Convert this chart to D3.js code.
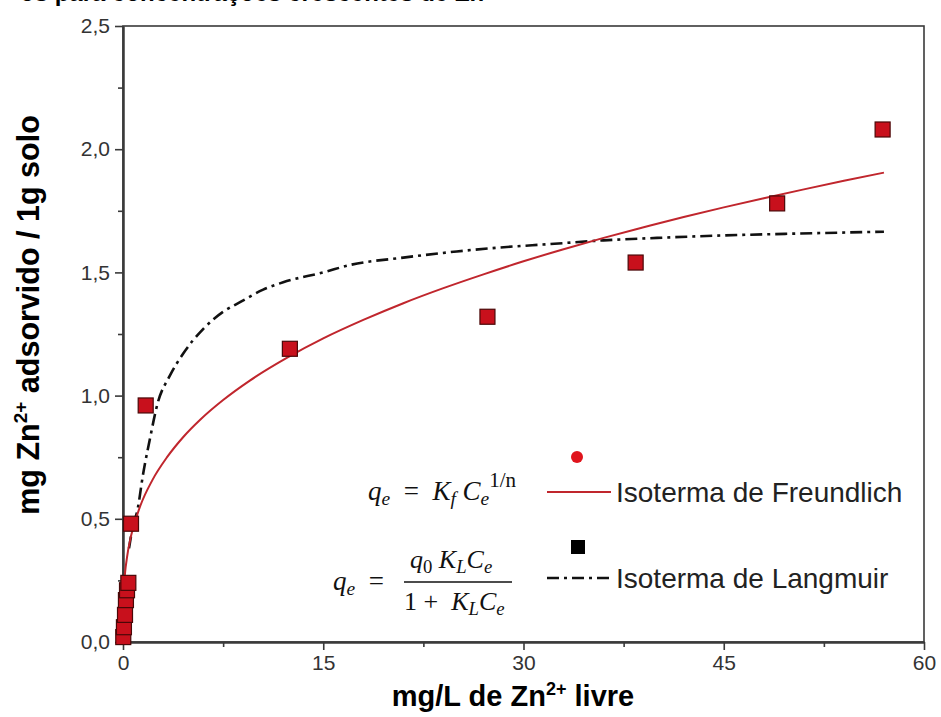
<!DOCTYPE html>
<html>
<head>
<meta charset="utf-8">
<script src="https://cdn.jsdelivr.net/npm/d3@7"></script>
<style>
  html, body { margin: 0; padding: 0; background: #fff; }
  svg { display: block; }
  .pre { white-space: pre; }
</style>
</head>
<body>
<div id="chart"></div>
<script>
// measured points (mg/L free Zn2+ vs mg adsorbed / g soil)
const obsC = [0.02, 0.07, 0.15, 0.22, 0.30, 0.40, 0.60, 1.7, 12.5, 27.3, 38.4, 49.0, 56.9];
const obsQ = [0.02, 0.06, 0.11, 0.17, 0.21, 0.24, 0.48, 0.96, 1.19, 1.32, 1.54, 1.78, 2.08];

// Freundlich curve
const freC = [0, 0.003, 0.02, 0.1, 0.3, 0.6, 1.3, 2.2, 3.3, 4.5, 5.8, 7.5, 9.5, 12.3, 15, 18, 21, 24, 27, 30, 33, 36, 39, 42, 45, 48, 51, 54, 57];
const freQ = [0, 0.076, 0.141, 0.239, 0.343, 0.430, 0.553, 0.657, 0.750, 0.831, 0.903, 0.982, 1.061, 1.154, 1.232, 1.307, 1.375, 1.436, 1.492, 1.545, 1.594, 1.640, 1.683, 1.725, 1.764, 1.801, 1.837, 1.872, 1.905];

// Langmuir curve
const lanC = [0.45, 0.7, 1.1, 1.5, 2.0, 2.6, 3.5, 4.5, 6.0, 7.5, 8.8, 10.5, 12.0, 15, 17, 21, 25, 28, 32, 36, 40, 45, 50, 57];
const lanQ = [0.38, 0.46, 0.54, 0.68, 0.82, 0.97, 1.08, 1.17, 1.27, 1.34, 1.38, 1.43, 1.46, 1.50, 1.53, 1.56, 1.585, 1.60, 1.615, 1.63, 1.64, 1.65, 1.657, 1.665];

const xMajor = [0, 15, 30, 45, 60];
const xMinor = [7.5, 22.5, 37.5, 52.5];
const yMajor = [0, 0.5, 1.0, 1.5, 2.0, 2.5];
const yMinor = [0.25, 0.75, 1.25, 1.75, 2.25];

const legendLabels = ["Isoterma de Freundlich", "Isoterma de Langmuir"];

const W = 941, H = 717;
const margin = { top: 26, right: 17, bottom: 75, left: 123 };
const width = W - margin.left - margin.right;
const height = H - margin.top - margin.bottom;

const svg = d3.select("#chart").append("svg")
  .attr("width", W)
  .attr("height", H);

// cut-off caption at the very top
svg.append("text")
  .attr("x", 20)
  .attr("y", 1)
  .attr("font-family", "Liberation Sans, Arial, sans-serif")
  .attr("font-weight", "bold")
  .attr("font-size", 24)
  .attr("fill", "#000")
  .text("os para concentrações crescentes de Zn²⁺");

const g = svg.append("g")
  .attr("transform", `translate(${margin.left},${margin.top})`);

const x = d3.scaleLinear().domain([0, 60]).range([0, width]);
const y = d3.scaleLinear().domain([0, 2.5]).range([height, 0]);

const comma = d3.formatLocale({ decimal: ",", thousands: ".", grouping: [3], currency: ["", ""] }).format(".1f");

const axisColor = "#3a3a3a";
const tickFont = "Liberation Sans, Arial, sans-serif";

// frame
g.append("rect")
  .attr("width", width)
  .attr("height", height)
  .attr("fill", "none")
  .attr("stroke", axisColor)
  .attr("stroke-width", 1.6);

// x axis
g.append("g")
  .attr("transform", `translate(0,${height})`)
  .call(d3.axisBottom(x).tickValues(xMajor).tickSize(8).tickSizeOuter(0).tickPadding(5).tickFormat(d3.format("d")));
g.append("g")
  .attr("transform", `translate(0,${height})`)
  .call(d3.axisBottom(x).tickValues(xMinor).tickSize(5).tickSizeOuter(0).tickFormat(""));

// y axis
g.append("g")
  .call(d3.axisLeft(y).tickValues(yMajor).tickSize(8).tickSizeOuter(0).tickPadding(5).tickFormat(comma));
g.append("g")
  .call(d3.axisLeft(y).tickValues(yMinor).tickSize(5).tickSizeOuter(0).tickFormat(""));

g.selectAll(".domain").attr("stroke", axisColor).attr("stroke-width", 2);
g.selectAll(".tick line").attr("stroke", axisColor).attr("stroke-width", 1.6);
g.selectAll(".tick text")
  .attr("font-family", tickFont)
  .attr("font-size", 21)
  .attr("fill", "#333");

// axis titles
const xTitle = svg.append("text")
  .attr("x", 513)
  .attr("y", 706)
  .attr("text-anchor", "middle")
  .attr("font-family", "Liberation Sans, Arial, sans-serif")
  .attr("font-weight", "bold")
  .attr("font-size", 29)
  .attr("fill", "#000");
xTitle.append("tspan").text("mg/L de Zn");
xTitle.append("tspan").attr("font-size", 18).attr("dy", -11).text("2+");
xTitle.append("tspan").attr("dy", 11).text(" livre");

const yTitle = svg.append("text")
  .attr("transform", "translate(39,315) rotate(-90)")
  .attr("text-anchor", "middle")
  .attr("font-family", "Liberation Sans, Arial, sans-serif")
  .attr("font-weight", "bold")
  .attr("font-size", 30.5)
  .attr("fill", "#000");
yTitle.append("tspan").text("mg Zn");
yTitle.append("tspan").attr("font-size", 19).attr("dy", -12).text("2+");
yTitle.append("tspan").attr("dy", 12).text(" adsorvido / 1g solo");

// curves
const line = d3.line()
  .x(d => x(d[0]))
  .y(d => y(d[1]))
  .curve(d3.curveMonotoneX);

const freundlichColor = "#c0262d";
const dashDot = "12,5,3,5";

g.append("path")
  .datum(lanC.map((c, i) => [c, lanQ[i]]))
  .attr("fill", "none")
  .attr("stroke", "#111")
  .attr("stroke-width", 2.6)
  .attr("stroke-dasharray", dashDot)
  .attr("d", line);

g.append("path")
  .datum(freC.map((c, i) => [c, freQ[i]]))
  .attr("fill", "none")
  .attr("stroke", freundlichColor)
  .attr("stroke-width", 2)
  .attr("d", line);

// measured squares
const sq = 15;
g.selectAll("rect.pt")
  .data(obsC.map((c, i) => [c, obsQ[i]]))
  .enter()
  .append("rect")
  .attr("class", "pt")
  .attr("x", d => x(d[0]) - sq / 2)
  .attr("y", d => y(d[1]) - sq / 2)
  .attr("width", sq)
  .attr("height", sq)
  .attr("fill", "#c8101c")
  .attr("stroke", "#4a0808")
  .attr("stroke-width", 1.2);

// legend
const leg = svg.append("g");
leg.append("circle").attr("cx", 577).attr("cy", 457).attr("r", 6).attr("fill", "#e0141c");
leg.append("line").attr("x1", 547).attr("x2", 611).attr("y1", 492).attr("y2", 492)
  .attr("stroke", freundlichColor).attr("stroke-width", 2);
leg.append("rect").attr("x", 571).attr("y", 540).attr("width", 14).attr("height", 14).attr("fill", "#000");
leg.append("line").attr("x1", 547).attr("x2", 611).attr("y1", 578).attr("y2", 578)
  .attr("stroke", "#111").attr("stroke-width", 2.6).attr("stroke-dasharray", dashDot);

leg.selectAll("text.lab")
  .data(legendLabels)
  .enter()
  .append("text")
  .attr("class", "lab")
  .attr("x", 616)
  .attr("y", (d, i) => [502, 588][i])
  .attr("font-family", "Liberation Sans, Arial, sans-serif")
  .attr("font-size", 28)
  .attr("fill", "#222")
  .text(d => d);

// equations
const mathFont = "Liberation Serif, Times New Roman, serif";
function eq(parent, xPos, yPos, parts, size) {
  const t = parent.append("text")
    .attr("class", "pre")
    .attr("x", xPos).attr("y", yPos)
    .attr("font-family", mathFont)
    .attr("font-style", "italic")
    .attr("font-size", size)
    .attr("fill", "#111");
  parts.forEach(p => {
    const s = t.append("tspan").text(p.t);
    if (p.sub) s.attr("baseline-shift", "-25%").attr("font-size", size * 0.72);
    if (p.sup) s.attr("baseline-shift", "60%").attr("font-size", size * 0.78);
    if (p.up) s.attr("font-style", "normal");
  });
  return t;
}

eq(leg, 368, 500, [
  { t: "q" }, { t: "e", sub: true }, { t: "  =  ", up: true }, { t: "K" }, { t: "f", sub: true },
  { t: " C" }, { t: "e", sub: true }, { t: "1/n", sup: true, up: true }
], 27);

eq(leg, 333, 590, [{ t: "q" }, { t: "e", sub: true }, { t: "  =", up: true }], 27);
eq(leg, 410, 568, [
  { t: "q" }, { t: "0", sub: true, up: true }, { t: " K" }, { t: "L", sub: true }, { t: "C" }, { t: "e", sub: true }
], 26);
leg.append("line").attr("x1", 404).attr("x2", 512).attr("y1", 582).attr("y2", 582)
  .attr("stroke", "#111").attr("stroke-width", 1.3);
eq(leg, 404, 610, [
  { t: "1 +  ", up: true }, { t: "K" }, { t: "L", sub: true }, { t: "C" }, { t: "e", sub: true }
], 26);
</script>
</body>
</html>
